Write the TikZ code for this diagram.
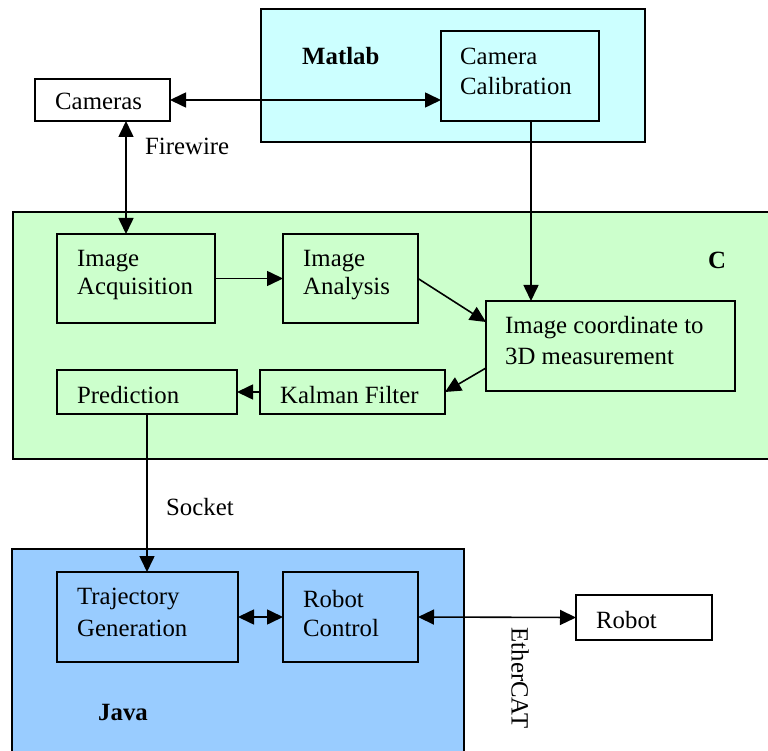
\documentclass[tikz,border=0pt]{standalone}
\usepackage{fontspec}
\setmainfont{Liberation Serif}
\usetikzlibrary{arrows.meta,calc}
\definecolor{mcyan}{HTML}{CCFFFF}
\definecolor{cgreen}{HTML}{CCFFCC}
\definecolor{jblue}{HTML}{99CCFF}
\begin{document}
\begin{tikzpicture}[x=1pt,y=-1pt,
  box/.style={draw=black, line width=1.8pt, anchor=north west, inner sep=0pt, outer sep=0pt},
  lbl/.style={anchor=west, inner sep=0pt, font=\fontsize{24.8}{29}\selectfont},
  blbl/.style={lbl, font=\fontsize{24.8}{29}\selectfont\bfseries},
  conn/.style={draw=black, line width=1.6pt},
  tip/.tip={Triangle[length=16pt,width=15pt]},
  one/.style={conn, -tip},
  two/.style={conn, tip-tip}]
\useasboundingbox (0,0) rectangle (768,751);
% containers
\node[box, fill=mcyan, minimum width=384pt, minimum height=133pt] (matlab) at (261,9) {};
\node[box, fill=cgreen, minimum width=770pt, minimum height=247pt] (cbox) at (13,212) {};
\node[box, fill=jblue, minimum width=452pt, minimum height=220pt] (java) at (12,549) {};
% boxes
\node[box, fill=white, minimum width=135pt, minimum height=42pt] (cameras) at (35,79) {};
\node[box, fill=mcyan, minimum width=158pt, minimum height=90pt] (camcal) at (441,31) {};
\node[box, fill=cgreen, minimum width=158pt, minimum height=89pt] (imgacq) at (57,234) {};
\node[box, fill=cgreen, minimum width=135pt, minimum height=89pt] (imganal) at (283,234) {};
\node[box, fill=cgreen, minimum width=249pt, minimum height=90pt] (imgcoord) at (486,301) {};
\node[box, fill=cgreen, minimum width=185pt, minimum height=44pt] (kalman) at (260,370) {};
\node[box, fill=cgreen, minimum width=180pt, minimum height=44pt] (pred) at (57,370) {};
\node[box, fill=jblue, minimum width=181pt, minimum height=90pt] (traj) at (57,572) {};
\node[box, fill=jblue, minimum width=135pt, minimum height=90pt] (robctl) at (283,572) {};
\node[box, fill=white, minimum width=136pt, minimum height=45pt] (robot) at (576,595) {};
% texts
\node[blbl] (tmatlab) at (302,56) {Matlab};
\node[blbl] (tc) at (708,260) {C};
\node[blbl] (tjava) at (98,712) {Java};
\node[lbl] (tcam) at (55,101) {Cameras};
\node[lbl] (tcc1) at (460,56) {Camera};
\node[lbl] (tcc2) at (460,86) {Calibration};
\node[lbl] (tia1) at (77,261) {Image};
\node[lbl] (tia2) at (77,289) {Acquisition};
\node[lbl] (tan1) at (303,261) {Image};
\node[lbl] (tan2) at (303,289) {Analysis};
\node[lbl] (tic1) at (505,328) {Image coordinate to};
\node[lbl] (tic2) at (505,356) {3D measurement};
\node[lbl] (tkal) at (280,395) {Kalman Filter};
\node[lbl] (tpred) at (77,395) {Prediction};
\node[lbl] (ttr1) at (77,599) {Trajectory};
\node[lbl] (ttr2) at (77,628) {Generation};
\node[lbl] (trc1) at (303,599) {Robot};
\node[lbl] (trc2) at (303,628) {Control};
\node[lbl] (trob) at (596,620) {Robot};
\node[lbl] (tfire) at (145,146) {Firewire};
\node[lbl] (tsock) at (166,507) {Socket};
\node[lbl, anchor=center, rotate=-90] (tether) at (520,678) {EtherCAT};
% connectors
\coordinate (fw) at (126,0);
\coordinate (cc) at (531,0);
\draw[two] (cameras.east) -- (cameras.east -| camcal.west);
\draw[two] (fw |- cameras.south) -- (fw |- imgacq.north);
\draw[one] (cc |- camcal.south) -- (cc |- imgcoord.north);
\draw[one] (imgacq.east) -- (imganal.west);
\draw[one] (imganal.east) -- ($(imgcoord.north west)+(0,21)$);
\draw[one] ($(imgcoord.north west)+(0,67)$) -- (kalman.east);
\draw[one] (kalman.west) -- (pred.east);
\draw[one] (pred.south) -- (pred.south |- traj.north);
\draw[two] (traj.east) -- (robctl.west);
\draw[two] (robctl.east) -- (robot.west);
\end{tikzpicture}
\end{document}
